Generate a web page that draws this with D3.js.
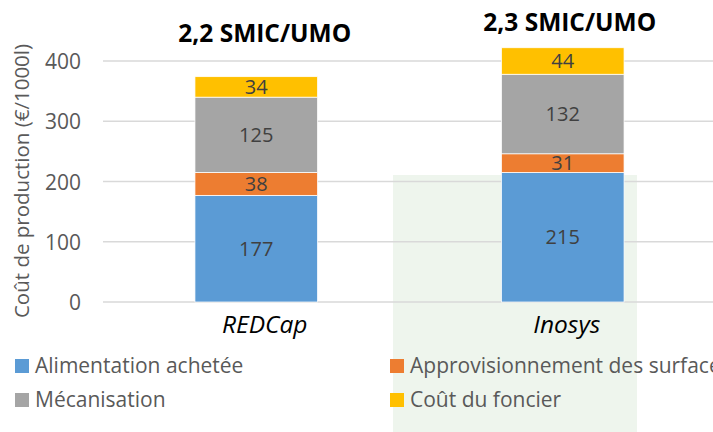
<!DOCTYPE html>
<html><head><meta charset="utf-8">
<script src="https://cdn.jsdelivr.net/npm/d3@7"></script>
<style>html,body{margin:0;padding:0;background:#fff;overflow:hidden}svg{display:block}</style>
</head><body>
<script>
const categories = ["REDCap", "Inosys"];
const headers = ["2,2 SMIC/UMO", "2,3 SMIC/UMO"];
const seriesNames = ["Alimentation achetée", "Approvisionnement des surfaces", "Mécanisation", "Coût du foncier"];
const alimentation = [177, 215];
const approvisionnement = [38, 31];
const mecanisation = [125, 132];
const foncier = [34, 44];
const yTicks = [0, 100, 200, 300, 400];
const colors = ["#5B9BD5", "#ED7D31", "#A5A5A5", "#FFC000"];

const W = 713, H = 432;
const svg = d3.select("body").append("svg").attr("width", W).attr("height", H);
const font = "'Open Sans', sans-serif";

// faint green background panel
svg.append("rect").attr("x", 393).attr("y", 175).attr("width", 244).attr("height", 257).attr("fill", "#EEF5ED");

const x = d3.scaleBand().domain(categories).range([103, 716]).paddingInner(0.6).paddingOuter(0.3);
const y = d3.scaleLinear().domain([0, 400]).range([302, 61]);

// gridlines
svg.append("g").selectAll("line").data(yTicks).join("line")
  .attr("x1", 103).attr("x2", 716).attr("y1", d => y(d)).attr("y2", d => y(d))
  .attr("stroke", "#D9D9D9").attr("stroke-width", 1.5);

// y axis labels
const yAxis = d3.axisLeft(y).tickValues(yTicks).tickSize(0).tickPadding(0);
const ga = svg.append("g").attr("transform", "translate(81,0)").call(yAxis);
ga.select(".domain").remove();
ga.selectAll("text").attr("font-family", font).attr("font-size", 21).attr("fill", "#595959").attr("dy", "0.36em");

// y title
svg.append("text").attr("transform", "translate(29,181) rotate(-90)")
  .attr("text-anchor", "middle").attr("font-family", font).attr("font-size", 20.5).attr("fill", "#595959")
  .text("Coût de production (€/1000l)");

const seriesVals = [alimentation, approvisionnement, mecanisation, foncier];
const rows = categories.map((c, i) => {
  const o = {cat: c};
  seriesNames.forEach((s, j) => o[s] = seriesVals[j][i]);
  return o;
});
const stack = d3.stack().keys(seriesNames)(rows);

const gBars = svg.append("g");
stack.forEach((layer, j) => {
  gBars.selectAll(null).data(layer).join("rect")
    .attr("x", d => x(d.data.cat)).attr("width", x.bandwidth())
    .attr("y", d => y(d[1])).attr("height", d => y(d[0]) - y(d[1]))
    .attr("fill", colors[j]).attr("stroke", "#fff").attr("stroke-width", 0.75);
  gBars.selectAll(null).data(layer).join("text")
    .attr("x", d => x(d.data.cat) + x.bandwidth() / 2)
    .attr("y", d => (y(d[0]) + y(d[1])) / 2).attr("dy", "0.36em")
    .attr("text-anchor", "middle").attr("font-family", font).attr("font-size", 20).attr("fill", "#404040")
    .text(d => d[1] - d[0]);
});

// headers above bars
svg.selectAll(null).data(categories).join("text")
  .attr("x", (d, i) => x(d) + x.bandwidth() / 2 + (i === 0 ? 8.5 : 7))
  .attr("y", (d, i) => i === 0 ? 42 : 31)
  .attr("text-anchor", "middle").attr("font-family", font).attr("font-weight", "bold").attr("font-size", 24.5).attr("fill", "#000")
  .text((d, i) => headers[i]);

// category labels
svg.selectAll(null).data(categories).join("text")
  .attr("x", (d, i) => x(d) + x.bandwidth() / 2 + (i === 0 ? 8.5 : 4))
  .attr("y", 333)
  .attr("text-anchor", "middle").attr("font-family", font).attr("font-style", "italic").attr("font-size", 24.5).attr("fill", "#000")
  .text(d => d);

// legend
const legPos = [[15, 359], [390, 359], [15, 393], [390, 393]];
const leg = svg.append("g");
seriesNames.forEach((s, j) => {
  const [lx, ly] = legPos[j];
  leg.append("rect").attr("x", lx).attr("y", ly).attr("width", 14).attr("height", 14).attr("fill", colors[j]);
  leg.append("text").attr("x", lx + 20).attr("y", ly + 14).attr("font-family", font).attr("font-size", 21).attr("fill", "#595959").text(s);
});
</script>
</body></html>
